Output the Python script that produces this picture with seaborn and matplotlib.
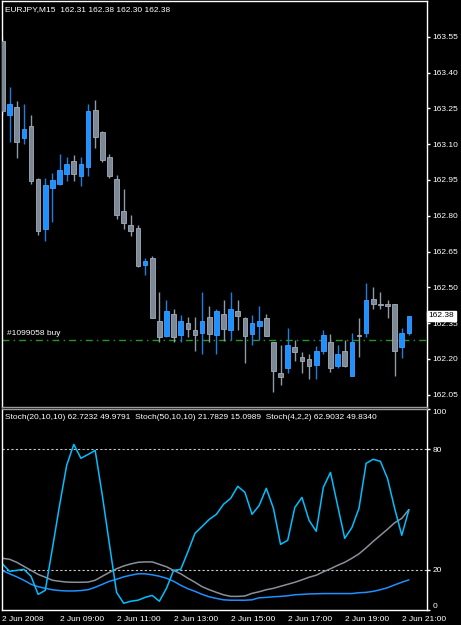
import numpy as np
import pandas as pd
import matplotlib
matplotlib.use("Agg")
import matplotlib.pyplot as plt
import seaborn as sns

# EURJPY M15 candles, 2 Jun 2008 07:00 .. 21:15
opens = [163.53, 163.22, 163.255, 163.125, 163.175, 162.955, 162.745, 162.915, 162.935, 162.975,
         163.03, 162.965, 163.005, 163.245, 163.15, 163.045, 162.955, 162.82, 162.76, 162.75,
         162.595, 162.625, 162.36, 162.295, 162.39, 162.30, 162.35, 162.32, 162.31, 162.375,
         162.30, 162.39, 162.32, 162.40, 162.37, 162.305, 162.34, 162.37, 162.27, 162.14,
         162.16, 162.25, 162.21, 162.20, 162.175, 162.235, 162.27, 162.17, 162.235, 162.13,
         162.30, 162.31, 162.45, 162.432, 162.43, 162.43, 162.25, 162.31]
highs = [163.55, 163.34, 163.28, 163.27, 163.22, 162.96, 162.96, 162.98, 163.06, 163.045,
         163.055, 163.045, 163.27, 163.285, 163.155, 163.06, 162.97, 162.91, 162.805, 162.76,
         162.625, 162.63, 162.48, 162.445, 162.41, 162.385, 162.375, 162.375, 162.48, 162.42,
         162.41, 162.445, 162.48, 162.445, 162.375, 162.385, 162.42, 162.39, 162.27, 162.26,
         162.33, 162.28, 162.23, 162.22, 162.255, 162.32, 162.305, 162.26, 162.28, 162.31,
         162.37, 162.52, 162.50, 162.48, 162.445, 162.43, 162.33, 162.38]
lows = [163.22, 163.11, 163.04, 163.10, 162.935, 162.72, 162.695, 162.775, 162.93, 162.945,
        162.945, 162.925, 162.965, 163.085, 163.025, 162.96, 162.785, 162.745, 162.715, 162.585,
        162.55, 162.37, 162.27, 162.29, 162.27, 162.27, 162.29, 162.235, 162.22, 162.27,
        162.22, 162.275, 162.28, 162.32, 162.185, 162.26, 162.28, 162.295, 162.06, 162.09,
        162.14, 162.19, 162.14, 162.115, 162.115, 162.22, 162.145, 162.16, 162.165, 162.13,
        162.21, 162.29, 162.41, 162.41, 162.37, 162.13, 162.205, 162.30]
closes = [163.24, 163.27, 163.11, 163.165, 162.945, 162.735, 162.93, 162.95, 162.99, 163.015,
          162.975, 163.015, 163.24, 163.13, 163.035, 162.965, 162.805, 162.77, 162.735, 162.59,
          162.61, 162.37, 162.29, 162.40, 162.29, 162.36, 162.325, 162.30, 162.36, 162.305,
          162.40, 162.325, 162.41, 162.38, 162.295, 162.35, 162.36, 162.295, 162.15, 162.125,
          162.26, 162.23, 162.19, 162.17, 162.235, 162.30, 162.16, 162.22, 162.17, 162.27,
          162.297, 162.445, 162.43, 162.428, 162.42, 162.235, 162.31, 162.38]

# stochastic signal lines
stoch_20 = [25.8, 25.3, 23.8, 21.8, 19.8, 17.8, 16.4, 14.9, 14.4, 14.0, 13.9, 13.9, 14.0, 14.9,
            16.9, 18.8, 20.6, 22.0, 23.0, 23.8, 24.0, 24.0, 22.8, 21.6, 19.8, 18.1, 15.9, 13.9,
            11.7, 10.2, 8.9, 7.7, 6.9, 6.9, 7.1, 8.4, 9.2, 10.2, 10.9, 11.9, 12.9, 13.9, 15.1,
            16.4, 17.4, 19.1, 20.6, 22.3, 23.8, 25.8, 28.0, 31.0, 34.2, 37.2, 40.2, 43.4, 45.6, 49.98]
stoch_50 = [19.7, 18.1, 16.6, 14.9, 12.9, 11.7, 10.9, 10.2, 9.8, 9.6, 9.6, 9.8, 10.2, 11.4,
            12.9, 14.4, 15.4, 16.6, 17.4, 18.1, 18.1, 17.6, 16.9, 15.9, 14.4, 12.4, 10.7, 9.4,
            7.9, 6.7, 5.9, 5.2, 5.0, 5.0, 5.0, 5.2, 6.2, 6.4, 6.7, 6.9, 7.2, 7.7, 7.9,
            8.1, 8.2, 8.3, 8.3, 8.3, 8.3, 8.3, 8.7, 8.9, 9.4, 10.2, 11.2, 12.6, 13.9, 15.1]
stoch_4 = [23.0, 19.3, 19.8, 20.3, 16.9, 7.9, 9.9, 30.7, 52.0, 71.9, 82.3, 75.4, 77.3, 79.3,
           57.0, 32.7, 8.9, 3.5, 4.5, 5.0, 6.4, 7.4, 4.5, 10.9, 19.8, 20.3, 29.0, 38.2,
           41.6, 45.1, 47.6, 52.6, 55.5, 61.5, 58.5, 47.6, 52.0, 60.5, 50.6, 32.7, 34.7, 51.0, 56.0,
           44.6, 39.2, 61.0, 68.4, 52.0, 35.7, 41.0, 50.6, 72.9, 74.9, 73.9, 65.4, 50.6, 37.2, 49.8]

price_ticks = [162.05, 162.20, 162.35, 162.50, 162.65, 162.80, 162.95, 163.10, 163.25, 163.40, 163.55]
time_ticks = [0, 8, 16, 24, 32, 40, 48, 56]
time_labels = ["2 Jun 2008", "2 Jun 09:00", "2 Jun 11:00", "2 Jun 13:00",
               "2 Jun 15:00", "2 Jun 17:00", "2 Jun 19:00", "2 Jun 21:00"]
buy_price = 162.28
last_price = 162.38

sns.set_style("dark")
plt.rcParams["font.family"] = ["Liberation Sans", "DejaVu Sans"]
plt.rcParams["font.size"] = 6

W, H = 461, 625
fig = plt.figure(figsize=(W / 100, H / 100), dpi=100, facecolor="black")

def px_axes(left, top, right, bottom):
    return fig.add_axes([left / W, 1 - bottom / H, (right - left) / W, (bottom - top) / H])

ax = px_axes(1.5, 1, 427, 407)
ax2 = px_axes(1.5, 408.7, 427, 610.3)

df = pd.DataFrame({"o": opens, "h": highs, "l": lows, "c": closes})
df["i"] = np.arange(len(df))
up = df["c"] >= df["o"]
xlim = (-0.14, 59.54)

for a in (ax, ax2):
    a.set_facecolor("black")
    a.set_xlim(*xlim)
    for s in a.spines.values():
        s.set_color("white")
        s.set_linewidth(1)
    a.grid(False)

# candles
blue, gray = "#1e90ff", "#7b8997"
for is_up, body_col, edge_col, wick_col in [(True, blue, "#3aa0ff", "#1a7fe0"),
                                            (False, gray, "#a3adb8", "#8e9aa6")]:
    d = df[up == is_up]
    ax.vlines(d["i"], d["l"], d["h"], color=wick_col, lw=1, zorder=2)
    bottom = np.minimum(d["o"], d["c"])
    height = np.maximum(np.abs(d["c"] - d["o"]), 0.004)
    ax.bar(d["i"], height, bottom=bottom, width=0.66, color=body_col,
           edgecolor=edge_col, linewidth=0.6, zorder=3)

ax.set_ylim(161.9987, 163.6996)
ax.yaxis.tick_right()
ax.set_yticks(price_ticks)
ax.set_yticklabels([f"{p:.2f}" for p in price_ticks])
ax.tick_params(axis="y", colors="white", length=2, width=1, pad=2, labelsize=6, right=True)
ax.tick_params(axis="x", bottom=False, labelbottom=False)
ax.spines["bottom"].set_color("#9a9a9a")

ax.axhline(buy_price, color="#1f9a1f", lw=1, dashes=(5, 3, 1, 3), zorder=1)
ax.text(0.012, buy_price + 0.012, "#1099058 buy", color="white", fontsize=6,
        transform=ax.get_yaxis_transform(), va="bottom", ha="left")
ax.text(1.004, last_price, f"{last_price:.2f}", color="black", fontsize=6,
        transform=ax.get_yaxis_transform(), va="center", ha="left", zorder=10,
        bbox=dict(boxstyle="square,pad=0.15", fc="white", ec="white"), clip_on=False)
ax.text(0.008, 0.978, "EURJPY,M15  162.31 162.38 162.30 162.38", color="white",
        fontsize=6, transform=ax.transAxes, va="center", ha="left")

# stochastics
st = pd.DataFrame({"i": np.arange(len(stoch_4)), "s20": stoch_20, "s50": stoch_50, "s4": stoch_4})
sns.lineplot(data=st, x="i", y="s20", ax=ax2, color="#8a9099", lw=1.1)
sns.lineplot(data=st, x="i", y="s50", ax=ax2, color="#1e90ff", lw=1.1)
sns.lineplot(data=st, x="i", y="s4", ax=ax2, color="#00bfff", lw=1.1)
for lvl in (20, 80):
    ax2.axhline(lvl, color="#c8c8c8", lw=0.8, dashes=(2, 2), zorder=0)
ax2.set_ylim(0, 100)
ax2.set_xlabel("")
ax2.set_ylabel("")
ax2.spines["top"].set_color("#9a9a9a")
ax2.yaxis.tick_right()
ax2.set_yticks([0, 20, 80, 100])
ax2.set_yticklabels(["0", "20", "80", "100"])
labs = ax2.get_yticklabels()
labs[0].set_va("bottom")
labs[-1].set_va("top")
ax2.tick_params(axis="y", colors="white", length=2, width=1, pad=2, labelsize=6, right=True)
ax2.set_xticks(time_ticks)
ax2.set_xticklabels(time_labels, ha="left")
ax2.tick_params(axis="x", colors="white", length=3, width=1, pad=1, labelsize=6, direction="out")
ax2.text(0.008, 0.955, "Stoch(20,10,10) 62.7232 49.9791  Stoch(50,10,10) 21.7829 15.0989  "
         "Stoch(4,2,2) 62.9032 49.8340", color="white", fontsize=6,
         transform=ax2.transAxes, va="center", ha="left")

fig.savefig("out.png", dpi=100, facecolor="black")
